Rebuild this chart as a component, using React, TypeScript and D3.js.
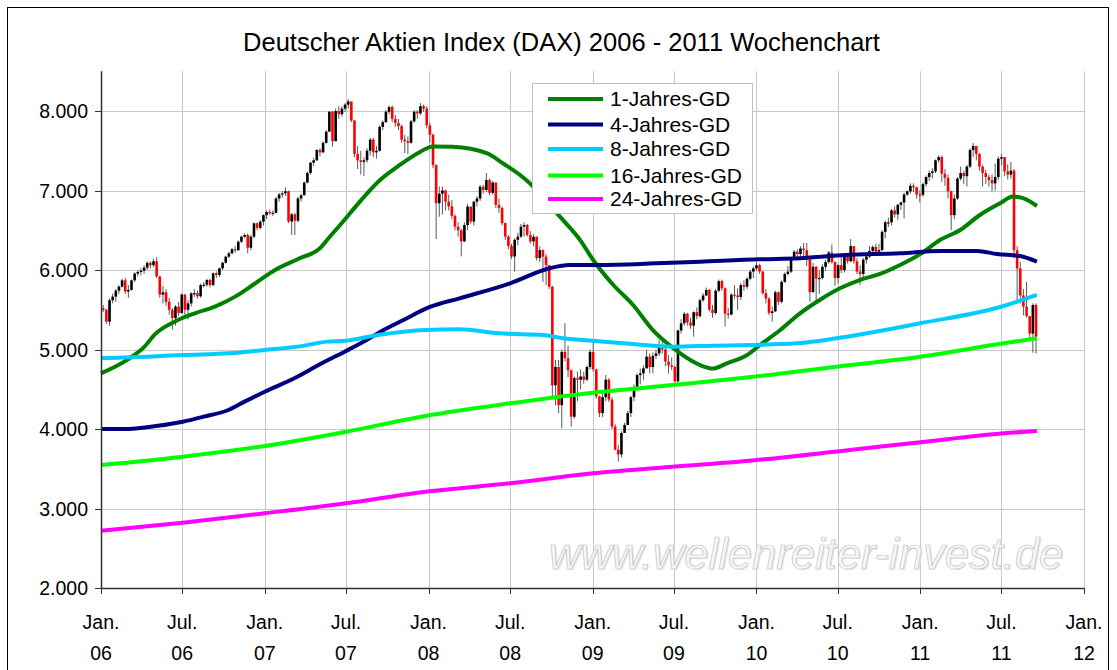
import React from "react";
import * as d3 from "d3";

const W = 1117;
const H = 670;

const title = "Deutscher Aktien Index (DAX) 2006 - 2011 Wochenchart";
const yTicks = [2000, 3000, 4000, 5000, 6000, 7000, 8000];
const xTickDates = ["2006-01-01", "2006-07-01", "2007-01-01", "2007-07-01", "2008-01-01", "2008-07-01", "2009-01-01", "2009-07-01", "2010-01-01", "2010-07-01", "2011-01-01", "2011-07-01", "2012-01-01"];
const xTickMonth = ["Jan.", "Jul.", "Jan.", "Jul.", "Jan.", "Jul.", "Jan.", "Jul.", "Jan.", "Jul.", "Jan.", "Jul.", "Jan."];
const xTickYear = ["06", "06", "07", "07", "08", "08", "09", "09", "10", "10", "11", "11", "12"];

// weekly candles, first plotted week and opening value
const firstWeek = "2006-01-06";
const firstOpen = 5520;

const close2006 = [5500, 5350, 5620, 5665, 5740, 5790, 5870, 5730, 5750, 5870, 5955, 5975, 5990, 6030, 6090, 6060, 6110, 5920, 5690, 5720, 5600, 5500, 5395, 5540, 5460, 5690, 5500, 5580, 5706, 5710, 5670, 5810, 5815, 5874, 5810, 5958, 5937, 6021, 6092, 6168, 6210, 6260, 6250, 6356, 6419, 6440, 6280, 6419, 6587, 6530, 6608];
const high2006 = [5560, 5510, 5640, 5700, 5760, 5810, 5890, 5900, 5810, 5880, 5970, 6000, 6020, 6060, 6110, 6110, 6140, 6160, 5920, 5800, 5760, 5650, 5520, 5560, 5600, 5710, 5700, 5620, 5720, 5760, 5740, 5830, 5850, 5890, 5890, 5970, 5980, 6030, 6100, 6180, 6230, 6280, 6300, 6370, 6430, 6460, 6460, 6440, 6600, 6600, 6630];
const low2006 = [5470, 5320, 5300, 5580, 5600, 5700, 5780, 5700, 5650, 5740, 5850, 5920, 5930, 5950, 6000, 6020, 6040, 5900, 5650, 5580, 5550, 5440, 5250, 5300, 5420, 5450, 5430, 5380, 5540, 5660, 5640, 5650, 5780, 5790, 5780, 5800, 5900, 5910, 6000, 6080, 6150, 6200, 6220, 6240, 6340, 6400, 6210, 6250, 6400, 6500, 6510];

const close2007 = [6690, 6730, 6715, 6720, 6900, 6950, 6965, 6990, 6610, 6700, 6620, 6900, 6940, 7100, 7220, 7350, 7380, 7510, 7480, 7600, 7740, 7990, 7620, 8000, 7960, 8030, 8080, 8120, 7880, 7460, 7380, 7360, 7380, 7500, 7640, 7480, 7500, 7800, 7860, 7990, 8050, 7900, 7850, 7810, 7640, 7620, 7600, 7870, 7990, 7970, 8060, 8030];
const high2007 = [6700, 6750, 6760, 6750, 6920, 6970, 6990, 7040, 7000, 6720, 6720, 6920, 6960, 7110, 7240, 7360, 7410, 7520, 7530, 7620, 7760, 8000, 8000, 8030, 8060, 8060, 8100, 8150, 8110, 7890, 7560, 7500, 7420, 7530, 7660, 7660, 7560, 7820, 7880, 8010, 8070, 8070, 7950, 7900, 7830, 7700, 7680, 7890, 8010, 8010, 8100, 8080];
const low2007 = [6560, 6640, 6690, 6680, 6710, 6860, 6910, 6930, 6590, 6440, 6440, 6600, 6860, 6940, 7090, 7200, 7310, 7370, 7430, 7470, 7590, 7740, 7550, 7620, 7900, 7930, 7990, 8030, 7860, 7420, 7270, 7200, 7180, 7350, 7440, 7420, 7400, 7490, 7760, 7850, 7960, 7860, 7800, 7760, 7600, 7470, 7460, 7590, 7850, 7900, 7950, 7990];

const close2008 = [7820, 7700, 7320, 6840, 6960, 7000, 6860, 6800, 6680, 6545, 6500, 6360, 6566, 6797, 6610, 6860, 6900, 7048, 7006, 7132, 6970, 7100, 6820, 6780, 6590, 6420, 6300, 6170, 6380, 6420, 6545, 6566, 6440, 6360, 6419, 6150, 6250, 6168, 6060, 5790, 4550, 4780, 4300, 4970, 4890, 4740, 4155, 4640, 4620, 4660, 4620, 4780];
const high2008 = [8060, 7850, 7720, 7330, 7050, 7050, 7010, 6950, 6880, 6700, 6600, 6520, 6600, 6830, 6800, 6870, 6930, 7070, 7070, 7220, 7150, 7120, 7100, 6900, 6800, 6600, 6440, 6330, 6400, 6470, 6580, 6600, 6580, 6490, 6450, 6420, 6300, 6260, 6200, 6050, 5800, 4870, 4870, 5000, 5330, 5050, 4700, 4660, 4720, 4750, 4720, 4800];
const low2008 = [7780, 7600, 7280, 6390, 6670, 6700, 6750, 6750, 6640, 6500, 6420, 6170, 6350, 6500, 6580, 6560, 6800, 6870, 6960, 6980, 6940, 6950, 6780, 6720, 6560, 6380, 6260, 6140, 5980, 6310, 6400, 6420, 6420, 6330, 6300, 6120, 6100, 5850, 5810, 5760, 4400, 4300, 4200, 4010, 4850, 4650, 4030, 4130, 4350, 4500, 4570, 4600];

const close2009 = [4970, 4750, 4410, 4200, 4400, 4620, 4370, 4030, 3740, 3680, 3950, 4050, 4200, 4400, 4530, 4680, 4700, 4763, 4910, 4780, 4920, 4950, 5050, 5000, 4850, 4800, 4780, 4600, 5240, 5330, 5450, 5340, 5300, 5470, 5420, 5620, 5680, 5750, 5500, 5460, 5740, 5860, 5770, 5450, 5440, 5690, 5680, 5660, 5810, 5790, 5890, 5980];
const high2009 = [5000, 5100, 4760, 4420, 4490, 4680, 4640, 4400, 4060, 3800, 3970, 4080, 4230, 4420, 4560, 4700, 4760, 4800, 5000, 4950, 4960, 5000, 5120, 5100, 5040, 4930, 4900, 4800, 5250, 5380, 5470, 5460, 5400, 5480, 5530, 5640, 5710, 5780, 5760, 5560, 5760, 5880, 5880, 5780, 5520, 5710, 5810, 5770, 5840, 5870, 5910, 6000];
const low2009 = [4750, 4720, 4380, 4150, 4150, 4350, 4340, 4000, 3730, 3590, 3640, 3950, 4050, 4150, 4350, 4500, 4560, 4620, 4760, 4700, 4700, 4880, 4920, 4950, 4790, 4700, 4740, 4570, 4570, 5200, 5300, 5300, 5260, 5160, 5380, 5400, 5600, 5670, 5480, 5400, 5440, 5720, 5740, 5290, 5390, 5430, 5640, 5500, 5620, 5740, 5760, 5870];

const close2010 = [6020, 6060, 5980, 5710, 5640, 5460, 5480, 5720, 5600, 5850, 5950, 5980, 6140, 6230, 6200, 6270, 6250, 6130, 5720, 6040, 5890, 5900, 6040, 6100, 6220, 6100, 5900, 6060, 6000, 6170, 6110, 6300, 6110, 5980, 5950, 6130, 6170, 6240, 6290, 6230, 6250, 6480, 6600, 6600, 6750, 6700, 6820, 6850, 6950, 6990, 7060, 7040, 6950];
const high2010 = [6040, 6100, 6080, 5990, 5760, 5660, 5540, 5740, 5730, 5870, 5970, 6050, 6150, 6250, 6260, 6300, 6340, 6340, 6160, 6090, 6050, 6000, 6070, 6130, 6240, 6320, 6110, 6080, 6180, 6210, 6200, 6390, 6300, 6150, 6060, 6150, 6200, 6300, 6310, 6330, 6330, 6500, 6620, 6660, 6770, 6800, 6830, 6860, 6970, 7000, 7090, 7090, 7050];
const low2010 = [5900, 5990, 5950, 5690, 5580, 5430, 5350, 5470, 5560, 5580, 5840, 5930, 5960, 6130, 6150, 6160, 6170, 6050, 5600, 5720, 5610, 5700, 5880, 5990, 6080, 6080, 5800, 5830, 5960, 5970, 6080, 6100, 6080, 5950, 5810, 5900, 6080, 6150, 6200, 6180, 6180, 6240, 6400, 6540, 6560, 6660, 6630, 6760, 6650, 6930, 6960, 6980, 6900];

const close2011 = [6945, 7080, 7170, 7220, 7240, 7380, 7420, 7210, 7160, 6990, 6690, 6900, 7150, 7220, 7180, 7300, 7510, 7560, 7460, 7300, 7220, 7170, 7130, 7090, 7170, 7400, 7420, 7240, 7200, 7250, 6250, 6020, 5680, 5540, 5420, 5200, 5560, 5160];
const high2011 = [7000, 7100, 7190, 7250, 7280, 7390, 7440, 7440, 7270, 7200, 7000, 6950, 7170, 7300, 7250, 7320, 7530, 7600, 7560, 7470, 7320, 7260, 7200, 7200, 7340, 7430, 7460, 7420, 7330, 7360, 7270, 6300, 6100, 5760, 5850, 5420, 5580, 5580];
const low2011 = [6850, 6920, 7050, 7120, 7150, 7220, 7350, 7110, 7060, 6900, 6500, 6640, 6880, 7130, 7080, 7050, 7280, 7420, 7380, 7250, 7050, 7080, 7050, 6990, 7000, 7130, 7320, 7180, 7140, 7150, 6150, 5620, 5580, 5430, 5400, 5150, 4960, 4950];

// moving averages (Gleitende Durchschnitte)
const gd1Dates = ["2006-01-01", "2006-03-02", "2006-04-08", "2006-05-01", "2006-06-14", "2006-07-29", "2006-09-12", "2006-10-27", "2006-12-11", "2007-01-24", "2007-03-20", "2007-05-04", "2007-05-26", "2007-06-18", "2007-07-10", "2007-08-01", "2007-09-15", "2007-10-29", "2007-12-14", "2008-01-10", "2008-02-24", "2008-05-11", "2008-06-15", "2008-07-23", "2008-08-14", "2008-09-17", "2008-10-27", "2008-12-04", "2009-01-02", "2009-02-16", "2009-04-01", "2009-05-15", "2009-06-16", "2009-07-15", "2009-08-28", "2009-09-26", "2009-10-27", "2009-12-11", "2010-01-09", "2010-02-23", "2010-04-08", "2010-05-22", "2010-07-06", "2010-08-19", "2010-10-03", "2010-11-17", "2011-01-01", "2011-02-14", "2011-03-31", "2011-05-14", "2011-06-28", "2011-07-27", "2011-08-18", "2011-09-18"];
const gd1Values = [4700, 4876, 5036, 5190, 5350, 5455, 5539, 5665, 5833, 6000, 6147, 6273, 6419, 6566, 6713, 6860, 7132, 7321, 7488, 7555, 7551, 7467, 7341, 7195, 7090, 6880, 6627, 6376, 6126, 5811, 5560, 5245, 5078, 4952, 4805, 4760, 4826, 4931, 5057, 5245, 5455, 5623, 5770, 5874, 5950, 6063, 6200, 6377, 6503, 6692, 6839, 6924, 6905, 6805];

const gd4Dates = ["2006-01-01", "2006-03-02", "2006-05-08", "2006-07-02", "2006-08-18", "2006-10-12", "2006-11-17", "2007-01-01", "2007-03-08", "2007-05-08", "2007-06-28", "2007-08-03", "2007-09-23", "2007-11-06", "2008-01-04", "2008-03-10", "2008-07-01", "2008-09-27", "2008-11-10", "2009-01-15", "2009-05-22", "2009-08-28", "2010-01-08", "2010-04-08", "2010-07-19", "2010-11-17", "2011-02-14", "2011-05-08", "2011-06-21", "2011-08-11", "2011-09-18"];
const gd4Values = [4000, 4000, 4040, 4092, 4155, 4239, 4344, 4469, 4638, 4826, 4972, 5078, 5245, 5371, 5535, 5644, 5833, 6022, 6063, 6063, 6084, 6105, 6135, 6147, 6189, 6210, 6240, 6240, 6200, 6176, 6105];

const gd8Dates = ["2006-01-01", "2006-04-15", "2006-07-02", "2006-10-15", "2007-01-01", "2007-03-15", "2007-05-20", "2007-07-01", "2007-09-10", "2007-12-25", "2008-03-10", "2008-06-07", "2008-09-13", "2008-10-27", "2009-01-01", "2009-04-01", "2009-06-28", "2009-09-27", "2009-12-17", "2010-04-01", "2010-06-28", "2011-01-01", "2011-07-06", "2011-09-18"];
const gd8Values = [4889, 4910, 4931, 4952, 4994, 5036, 5099, 5111, 5182, 5245, 5254, 5203, 5182, 5141, 5111, 5069, 5036, 5048, 5057, 5078, 5141, 5330, 5547, 5686];

const gd16Dates = ["2006-01-01", "2006-07-02", "2007-01-01", "2007-07-02", "2007-12-25", "2008-07-01", "2009-01-01", "2009-06-28", "2009-11-24", "2010-06-28", "2011-01-01", "2011-07-06", "2011-09-18"];
const gd16Values = [3547, 3652, 3786, 3966, 4164, 4323, 4457, 4553, 4638, 4784, 4910, 5078, 5141];

const gd24Dates = ["2006-01-01", "2006-07-02", "2007-01-01", "2007-07-02", "2007-12-25", "2008-07-01", "2009-01-01", "2009-06-28", "2009-12-17", "2010-07-28", "2011-01-01", "2011-07-06", "2011-09-18"];
const gd24Values = [2721, 2822, 2940, 3065, 3211, 3317, 3443, 3526, 3601, 3736, 3833, 3946, 3975];

const seriesNames = ["1-Jahres-GD", "4-Jahres-GD", "8-Jahres-GD", "16-Jahres-GD", "24-Jahres-GD"];
const seriesColors = ["#008000", "#000080", "#00CCFF", "#00FF00", "#FF00FF"];

const watermark = "www.wellenreiter-invest.de";

const FONT = "'Liberation Sans', Arial, sans-serif";

export default function App() {
  const parse = d3.timeParse("%Y-%m-%d");
  const left = 101, right = 1084, top = 71.25, bottom = 588;
  const x = d3.scaleTime().domain([parse("2006-01-01")!, parse("2012-01-01")!]).range([left, right]);
  const y = d3.scaleLinear().domain([2000, 8500]).range([bottom, top]);
  const fmt = d3.formatLocale({ decimal: ",", thousands: ".", grouping: [3], currency: ["", "€"] }).format(",");

  const closes = [...close2006, ...close2007, ...close2008, ...close2009, ...close2010, ...close2011];
  const highs = [...high2006, ...high2007, ...high2008, ...high2009, ...high2010, ...high2011];
  const lows = [...low2006, ...low2007, ...low2008, ...low2009, ...low2010, ...low2011];
  const start = parse(firstWeek)!;
  const candles = closes.map((c, i) => {
    const open = i === 0 ? firstOpen : closes[i - 1];
    return {
      date: d3.timeWeek.offset(start, i),
      open,
      close: c,
      high: Math.max(highs[i], c, open),
      low: Math.min(lows[i], c, open),
    };
  });

  const series = [
    [gd1Dates, gd1Values],
    [gd4Dates, gd4Values],
    [gd8Dates, gd8Values],
    [gd16Dates, gd16Values],
    [gd24Dates, gd24Values],
  ].map(([ds, vs]) => (ds as string[]).map((d, i) => ({ date: parse(d)!, value: (vs as number[])[i] })));

  const line = d3
    .line<{ date: Date; value: number }>()
    .x((d) => x(d.date))
    .y((d) => y(d.value))
    .curve(d3.curveMonotoneX);

  const tickDates = xTickDates.map((d) => parse(d)!);
  const bw = 2.6;
  const legendRows = [99, 124.5, 149, 175.5, 199];

  return (
    <svg width={W} height={H} style={{ position: "absolute", left: 0, top: 0, background: "#fff" }} fontFamily={FONT}>
      <rect x={0} y={0} width={W} height={H} fill="#fff" />
      <rect x={7.5} y={7.5} width={1101} height={720} fill="none" stroke="#000" strokeWidth={1} />
      <text x={561.5} y={51} textAnchor="middle" fontSize={25.5} fill="#000">{title}</text>

      {/* gridlines */}
      {yTicks.filter((t) => t > 2000).map((t) => (
        <line key={"hg" + t} x1={left} x2={right} y1={Math.round(y(t)) + 0.5} y2={Math.round(y(t)) + 0.5} stroke="#c8c8c8" strokeWidth={1} />
      ))}
      {tickDates.slice(1).map((d, i) => (
        <line key={"vg" + i} x1={Math.round(x(d)) + 0.5} x2={Math.round(x(d)) + 0.5} y1={top} y2={bottom} stroke="#c8c8c8" strokeWidth={1} />
      ))}

      {/* watermark */}
      <text x={549} y={569} fontSize={43.5} fontStyle="italic" fill="#e2e2e2" transform="translate(1.2,1.2)">{watermark}</text>
      <text x={549} y={569} fontSize={43.5} fontStyle="italic" fill="#f7f7f7" stroke="#c4c4c4" strokeWidth={0.7}>{watermark}</text>

      {/* candles */}
      {candles.map((c, i) => {
        const cx = x(c.date);
        const up = c.close >= c.open;
        const y1 = y(Math.max(c.open, c.close));
        const y2 = y(Math.min(c.open, c.close));
        return (
          <g key={"c" + i}>
            <line x1={cx} x2={cx} y1={y(c.high)} y2={y(c.low)} stroke="#5a5a5a" strokeWidth={1} />
            <rect x={cx - bw / 2} y={y1} width={bw} height={Math.max(1.2, y2 - y1)} fill={up ? "#000" : "#ff0000"} />
          </g>
        );
      })}

      {/* moving averages */}
      {series.map((s, i) => (
        <path key={"s" + i} d={line(s) || ""} fill="none" stroke={seriesColors[i]} strokeWidth={4} strokeLinejoin="round" />
      ))}

      {/* axes */}
      <line x1={left + 0.5} x2={left + 0.5} y1={top} y2={bottom} stroke="#333" strokeWidth={1.5} />
      <line x1={left} x2={right} y1={bottom + 0.5} y2={bottom + 0.5} stroke="#333" strokeWidth={1.5} />
      {yTicks.map((t) => (
        <g key={"yt" + t}>
          <line x1={left - 6} x2={left} y1={Math.round(y(t)) + 0.5} y2={Math.round(y(t)) + 0.5} stroke="#333" />
          <text x={88} y={y(t) + 7} textAnchor="end" fontSize={19.5} fill="#000">{fmt(t)}</text>
        </g>
      ))}
      {tickDates.map((d, i) => (
        <g key={"xt" + i}>
          <line x1={Math.round(x(d)) + 0.5} x2={Math.round(x(d)) + 0.5} y1={bottom} y2={bottom + 6} stroke="#333" />
          <text x={x(d)} y={629} textAnchor="middle" fontSize={19.5} fill="#000">{xTickMonth[i]}</text>
          <text x={x(d)} y={660} textAnchor="middle" fontSize={19.5} fill="#000">{xTickYear[i]}</text>
        </g>
      ))}

      {/* legend */}
      <rect x={532.5} y={83.5} width={220} height={130} fill="#fff" stroke="#c0c0c0" strokeWidth={1} />
      {seriesNames.map((n, i) => (
        <g key={"lg" + i}>
          <line x1={548} x2={603} y1={legendRows[i]} y2={legendRows[i]} stroke={seriesColors[i]} strokeWidth={4} />
          <text x={610} y={legendRows[i] + 7} fontSize={21} fill="#000">{n}</text>
        </g>
      ))}
    </svg>
  );
}
